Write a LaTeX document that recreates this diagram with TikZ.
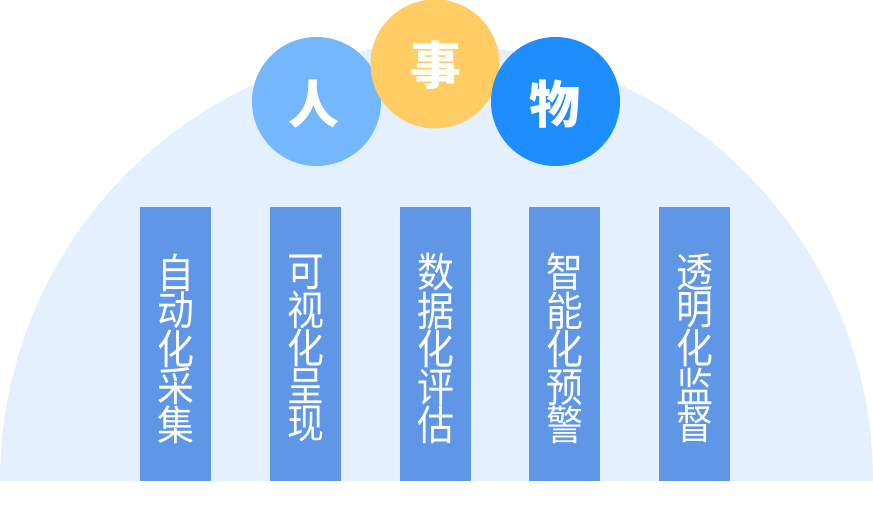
\documentclass[tikz,border=0pt]{standalone}
\usepackage{fontspec}
\newfontfamily\cjk{Noto Sans CJK SC}
\newfontfamily\cjkn[FakeStretch=0.9]{Noto Sans CJK SC}
\definecolor{domec}{HTML}{E4F0FE}
\definecolor{barc}{HTML}{5F97E6}
\definecolor{renc}{HTML}{74B7FD}
\definecolor{shic}{HTML}{FFCD63}
\definecolor{wuc}{HTML}{1E8EFF}
\tikzset{
  barbox/.style={fill=barc, draw=none, minimum width=71pt, minimum height=274pt, inner sep=0pt},
  bartext/.style={text=white, align=center, inner sep=0pt, font=\cjkn\fontsize{41}{37.4}\selectfont},
  ball/.style={circle, draw=none, minimum size=129pt, inner sep=0pt},
  balltext/.style={text=white, inner sep=0pt, font=\cjk\bfseries\fontsize{51}{51}\selectfont}
}
\begin{document}
\begin{tikzpicture}[x=1pt,y=1pt]
\useasboundingbox (0,0) rectangle (873,506);
\fill[domec] (0,25) arc[start angle=180,end angle=0,radius=436.5] -- cycle;
% bars
\foreach \i/\x/\t in {1/175.5/{自\\动\\化\\采\\集},2/305.5/{可\\视\\化\\呈\\现},3/435.5/{数\\据\\化\\评\\估},4/564.5/{智\\能\\化\\预\\警},5/694.5/{透\\明\\化\\监\\督}}{
  \node[barbox] (bar\i) at (\x,162) {};
  \node[bartext] (lab\i) at (\x,157.5) {\t};
}
% circles
\node[ball, fill=renc] (ren) at (316.5,404.5) {};
\node[ball, fill=shic] (shi) at (435,442) {};
\node[ball, fill=wuc] (wu) at (555.5,404.5) {};
\node[balltext] (rent) at (314,402) {人};
\node[balltext] (shit) at (436,441) {事};
\node[balltext] (wut) at (555,402) {物};
\end{tikzpicture}
\end{document}
